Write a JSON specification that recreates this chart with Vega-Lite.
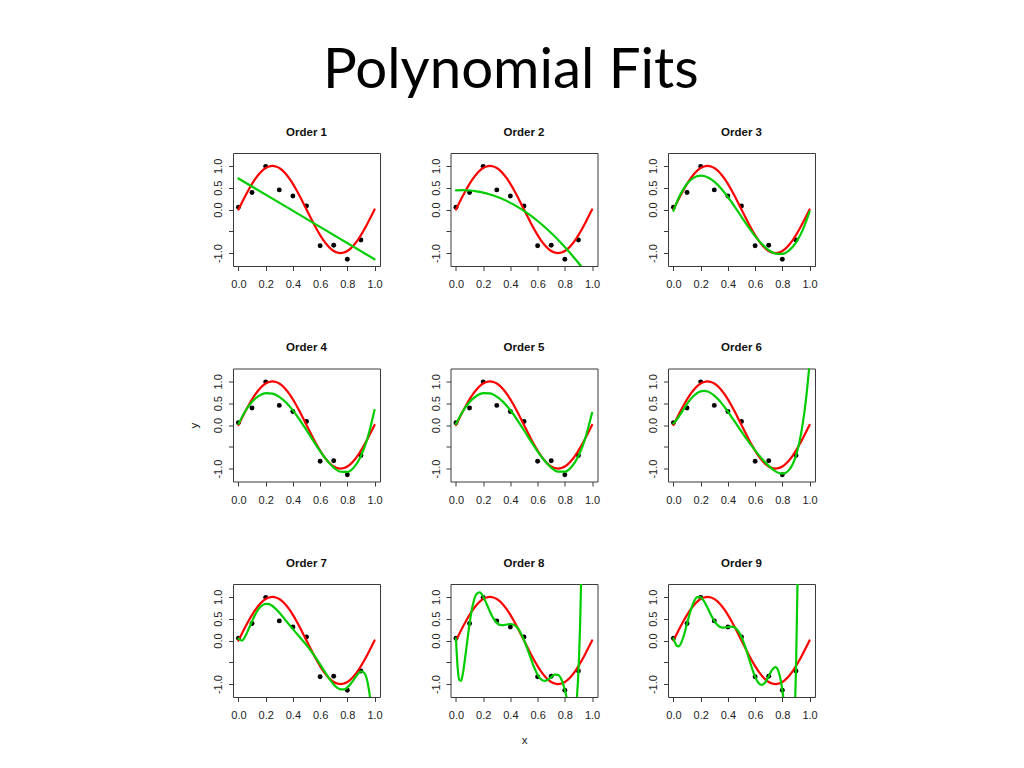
{
 "$schema": "https://vega.github.io/schema/vega-lite/v6.json",
 "background": "white",
 "padding": {"left": 188, "top": 42, "right": 5, "bottom": 5},
 "title": {"text": "Polynomial Fits", "font": "Lato", "fontSize": 56.4, "fontWeight": "normal", "color": "black", "anchor": "middle", "baseline": "alphabetic", "offset": -18, "dx": 8},
 "datasets": {
  "pts": [
   {"x": 0, "y": 0.05}, {"x": 0.1, "y": 0.39}, {"x": 0.2, "y": 0.99}, {"x": 0.3, "y": 0.45}, {"x": 0.4, "y": 0.31},
   {"x": 0.5, "y": 0.08}, {"x": 0.6, "y": -0.83}, {"x": 0.7, "y": -0.82}, {"x": 0.8, "y": -1.14}, {"x": 0.9, "y": -0.70}
  ],
  "sine": [
   {"x": 0, "y": 0}, {"x": 0.025, "y": 0.1564}, {"x": 0.05, "y": 0.309}, {"x": 0.075, "y": 0.454}, {"x": 0.1, "y": 0.5878},
   {"x": 0.125, "y": 0.7071}, {"x": 0.15, "y": 0.809}, {"x": 0.175, "y": 0.891}, {"x": 0.2, "y": 0.9511}, {"x": 0.225, "y": 0.9877},
   {"x": 0.25, "y": 1}, {"x": 0.275, "y": 0.9877}, {"x": 0.3, "y": 0.9511}, {"x": 0.325, "y": 0.891}, {"x": 0.35, "y": 0.809},
   {"x": 0.375, "y": 0.7071}, {"x": 0.4, "y": 0.5878}, {"x": 0.425, "y": 0.454}, {"x": 0.45, "y": 0.309}, {"x": 0.475, "y": 0.1564},
   {"x": 0.5, "y": 0}, {"x": 0.525, "y": -0.1564}, {"x": 0.55, "y": -0.309}, {"x": 0.575, "y": -0.454}, {"x": 0.6, "y": -0.5878},
   {"x": 0.625, "y": -0.7071}, {"x": 0.65, "y": -0.809}, {"x": 0.675, "y": -0.891}, {"x": 0.7, "y": -0.9511}, {"x": 0.725, "y": -0.9877},
   {"x": 0.75, "y": -1}, {"x": 0.775, "y": -0.9877}, {"x": 0.8, "y": -0.9511}, {"x": 0.825, "y": -0.891}, {"x": 0.85, "y": -0.809},
   {"x": 0.875, "y": -0.7071}, {"x": 0.9, "y": -0.5878}, {"x": 0.925, "y": -0.454}, {"x": 0.95, "y": -0.309}, {"x": 0.975, "y": -0.1564},
   {"x": 1, "y": 0}
  ],
  "fits": [
   {"order": 1, "x": 0, "y": 0.712}, {"order": 1, "x": 0.5, "y": -0.2145}, {"order": 1, "x": 1, "y": -1.141},

   {"order": 2, "x": 0, "y": 0.4396}, {"order": 2, "x": 0.05, "y": 0.4434}, {"order": 2, "x": 0.1, "y": 0.4359}, {"order": 2, "x": 0.15, "y": 0.4169},
   {"order": 2, "x": 0.2, "y": 0.3867}, {"order": 2, "x": 0.25, "y": 0.345}, {"order": 2, "x": 0.3, "y": 0.2921}, {"order": 2, "x": 0.35, "y": 0.2278},
   {"order": 2, "x": 0.4, "y": 0.1522}, {"order": 2, "x": 0.45, "y": 0.0652}, {"order": 2, "x": 0.5, "y": -0.0332}, {"order": 2, "x": 0.55, "y": -0.1428},
   {"order": 2, "x": 0.6, "y": -0.2639}, {"order": 2, "x": 0.65, "y": -0.3962}, {"order": 2, "x": 0.7, "y": -0.5399}, {"order": 2, "x": 0.75, "y": -0.6949},
   {"order": 2, "x": 0.8, "y": -0.8613}, {"order": 2, "x": 0.85, "y": -1.039}, {"order": 2, "x": 0.9, "y": -1.2282}, {"order": 2, "x": 0.95, "y": -1.4286},
   {"order": 2, "x": 1, "y": -1.6404},

   {"order": 3, "x": 0, "y": -0.0287}, {"order": 3, "x": 0.05, "y": 0.3431}, {"order": 3, "x": 0.1, "y": 0.5921}, {"order": 3, "x": 0.15, "y": 0.7321},
   {"order": 3, "x": 0.2, "y": 0.7771}, {"order": 3, "x": 0.25, "y": 0.7411}, {"order": 3, "x": 0.3, "y": 0.6379}, {"order": 3, "x": 0.35, "y": 0.4816},
   {"order": 3, "x": 0.4, "y": 0.286}, {"order": 3, "x": 0.45, "y": 0.0652}, {"order": 3, "x": 0.5, "y": -0.167}, {"order": 3, "x": 0.55, "y": -0.3966},
   {"order": 3, "x": 0.6, "y": -0.6097}, {"order": 3, "x": 0.65, "y": -0.7923}, {"order": 3, "x": 0.7, "y": -0.9303}, {"order": 3, "x": 0.75, "y": -1.0101},
   {"order": 3, "x": 0.8, "y": -1.0177}, {"order": 3, "x": 0.85, "y": -0.9387}, {"order": 3, "x": 0.9, "y": -0.7599}, {"order": 3, "x": 0.95, "y": -0.4667},
   {"order": 3, "x": 1, "y": -0.0455},

   {"order": 4, "x": 0, "y": 0.02}, {"order": 4, "x": 0.05, "y": 0.3159}, {"order": 4, "x": 0.1, "y": 0.532}, {"order": 4, "x": 0.15, "y": 0.6693},
   {"order": 4, "x": 0.2, "y": 0.7307}, {"order": 4, "x": 0.25, "y": 0.7209}, {"order": 4, "x": 0.3, "y": 0.646}, {"order": 4, "x": 0.35, "y": 0.5142},
   {"order": 4, "x": 0.4, "y": 0.335}, {"order": 4, "x": 0.45, "y": 0.12}, {"order": 4, "x": 0.5, "y": -0.118}, {"order": 4, "x": 0.55, "y": -0.3639},
   {"order": 4, "x": 0.6, "y": -0.6014}, {"order": 4, "x": 0.65, "y": -0.8123}, {"order": 4, "x": 0.7, "y": -0.9765}, {"order": 4, "x": 0.75, "y": -1.0727},
   {"order": 4, "x": 0.8, "y": -1.0773}, {"order": 4, "x": 0.85, "y": -0.9655}, {"order": 4, "x": 0.9, "y": -0.7105}, {"order": 4, "x": 0.95, "y": -0.2838},
   {"order": 4, "x": 1, "y": 0.3445},

   {"order": 5, "x": 0, "y": 0.0227}, {"order": 5, "x": 0.05, "y": 0.3104}, {"order": 5, "x": 0.1, "y": 0.5257}, {"order": 5, "x": 0.15, "y": 0.6659},
   {"order": 5, "x": 0.2, "y": 0.7312}, {"order": 5, "x": 0.25, "y": 0.7244}, {"order": 5, "x": 0.3, "y": 0.6509}, {"order": 5, "x": 0.35, "y": 0.5188},
   {"order": 5, "x": 0.4, "y": 0.3377}, {"order": 5, "x": 0.45, "y": 0.12}, {"order": 5, "x": 0.5, "y": -0.1207}, {"order": 5, "x": 0.55, "y": -0.3685},
   {"order": 5, "x": 0.6, "y": -0.6063}, {"order": 5, "x": 0.65, "y": -0.8158}, {"order": 5, "x": 0.7, "y": -0.977}, {"order": 5, "x": 0.75, "y": -1.0693},
   {"order": 5, "x": 0.8, "y": -1.071}, {"order": 5, "x": 0.85, "y": -0.9599}, {"order": 5, "x": 0.9, "y": -0.7132}, {"order": 5, "x": 0.95, "y": -0.3075},
   {"order": 5, "x": 1, "y": 0.2803},

   {"order": 6, "x": 0, "y": 0.0345}, {"order": 6, "x": 0.025, "y": 0.1261}, {"order": 6, "x": 0.05, "y": 0.2413}, {"order": 6, "x": 0.075, "y": 0.3641},
   {"order": 6, "x": 0.1, "y": 0.4823}, {"order": 6, "x": 0.125, "y": 0.5871}, {"order": 6, "x": 0.15, "y": 0.6723}, {"order": 6, "x": 0.175, "y": 0.7341},
   {"order": 6, "x": 0.2, "y": 0.7705}, {"order": 6, "x": 0.225, "y": 0.7814}, {"order": 6, "x": 0.25, "y": 0.7677}, {"order": 6, "x": 0.275, "y": 0.7313},
   {"order": 6, "x": 0.3, "y": 0.6746}, {"order": 6, "x": 0.325, "y": 0.6006}, {"order": 6, "x": 0.35, "y": 0.5125}, {"order": 6, "x": 0.375, "y": 0.4134},
   {"order": 6, "x": 0.4, "y": 0.3062}, {"order": 6, "x": 0.425, "y": 0.1939}, {"order": 6, "x": 0.45, "y": 0.0787}, {"order": 6, "x": 0.475, "y": -0.0372},
   {"order": 6, "x": 0.5, "y": -0.1522}, {"order": 6, "x": 0.525, "y": -0.265}, {"order": 6, "x": 0.55, "y": -0.3747}, {"order": 6, "x": 0.575, "y": -0.4808},
   {"order": 6, "x": 0.6, "y": -0.5827}, {"order": 6, "x": 0.625, "y": -0.6801}, {"order": 6, "x": 0.65, "y": -0.7724}, {"order": 6, "x": 0.675, "y": -0.8587},
   {"order": 6, "x": 0.7, "y": -0.9376}, {"order": 6, "x": 0.725, "y": -1.0068}, {"order": 6, "x": 0.75, "y": -1.0629}, {"order": 6, "x": 0.775, "y": -1.1009},
   {"order": 6, "x": 0.8, "y": -1.1144}, {"order": 6, "x": 0.825, "y": -1.0942}, {"order": 6, "x": 0.85, "y": -1.029}, {"order": 6, "x": 0.875, "y": -0.9041},
   {"order": 6, "x": 0.9, "y": -0.7013}, {"order": 6, "x": 0.925, "y": -0.3984}, {"order": 6, "x": 0.95, "y": 0.0316}, {"order": 6, "x": 0.975, "y": 0.6207},
   {"order": 6, "x": 1, "y": 1.407},

   {"order": 7, "x": 0, "y": 0.0418}, {"order": 7, "x": 0.025, "y": -0.0017}, {"order": 7, "x": 0.05, "y": 0.0976}, {"order": 7, "x": 0.075, "y": 0.2635},
   {"order": 7, "x": 0.1, "y": 0.4439}, {"order": 7, "x": 0.125, "y": 0.6054}, {"order": 7, "x": 0.15, "y": 0.7294}, {"order": 7, "x": 0.175, "y": 0.808},
   {"order": 7, "x": 0.2, "y": 0.8409}, {"order": 7, "x": 0.225, "y": 0.8327}, {"order": 7, "x": 0.25, "y": 0.7908}, {"order": 7, "x": 0.275, "y": 0.7239},
   {"order": 7, "x": 0.3, "y": 0.6402}, {"order": 7, "x": 0.325, "y": 0.5473}, {"order": 7, "x": 0.35, "y": 0.4507}, {"order": 7, "x": 0.375, "y": 0.3544},
   {"order": 7, "x": 0.4, "y": 0.2604}, {"order": 7, "x": 0.425, "y": 0.1689}, {"order": 7, "x": 0.45, "y": 0.0787}, {"order": 7, "x": 0.475, "y": -0.0122},
   {"order": 7, "x": 0.5, "y": -0.1064}, {"order": 7, "x": 0.525, "y": -0.2061}, {"order": 7, "x": 0.55, "y": -0.3129}, {"order": 7, "x": 0.575, "y": -0.4274},
   {"order": 7, "x": 0.6, "y": -0.5483}, {"order": 7, "x": 0.625, "y": -0.6727}, {"order": 7, "x": 0.65, "y": -0.7955}, {"order": 7, "x": 0.675, "y": -0.9099},
   {"order": 7, "x": 0.7, "y": -1.0079}, {"order": 7, "x": 0.725, "y": -1.0807}, {"order": 7, "x": 0.75, "y": -1.12}, {"order": 7, "x": 0.775, "y": -1.1192},
   {"order": 7, "x": 0.8, "y": -1.0759}, {"order": 7, "x": 0.825, "y": -0.9937}, {"order": 7, "x": 0.85, "y": -0.8853}, {"order": 7, "x": 0.875, "y": -0.7763},
   {"order": 7, "x": 0.9, "y": -0.7087}, {"order": 7, "x": 0.925, "y": -0.7463}, {"order": 7, "x": 0.95, "y": -0.9798}, {"order": 7, "x": 0.975, "y": -1.5329},
   {"order": 7, "x": 1, "y": -2.5696},

   {"order": 8, "x": 0, "y": 0.0503}, {"order": 8, "x": 0.0125, "y": -0.6216}, {"order": 8, "x": 0.025, "y": -0.9073}, {"order": 8, "x": 0.0375, "y": -0.9254},
   {"order": 8, "x": 0.05, "y": -0.7697}, {"order": 8, "x": 0.075, "y": -0.2104}, {"order": 8, "x": 0.1, "y": 0.3849}, {"order": 8, "x": 0.125, "y": 0.8289},
   {"order": 8, "x": 0.15, "y": 1.0631}, {"order": 8, "x": 0.175, "y": 1.105}, {"order": 8, "x": 0.2, "y": 1.0094}, {"order": 8, "x": 0.225, "y": 0.8416},
   {"order": 8, "x": 0.25, "y": 0.6599}, {"order": 8, "x": 0.275, "y": 0.5066}, {"order": 8, "x": 0.3, "y": 0.4043}, {"order": 8, "x": 0.325, "y": 0.3564},
   {"order": 8, "x": 0.35, "y": 0.3512}, {"order": 8, "x": 0.375, "y": 0.3671}, {"order": 8, "x": 0.4, "y": 0.3784}, {"order": 8, "x": 0.425, "y": 0.361},
   {"order": 8, "x": 0.45, "y": 0.2975}, {"order": 8, "x": 0.475, "y": 0.1799}, {"order": 8, "x": 0.5, "y": 0.0116}, {"order": 8, "x": 0.525, "y": -0.1934},
   {"order": 8, "x": 0.55, "y": -0.4124}, {"order": 8, "x": 0.575, "y": -0.6183}, {"order": 8, "x": 0.6, "y": -0.7843}, {"order": 8, "x": 0.625, "y": -0.8899},
   {"order": 8, "x": 0.65, "y": -0.9264}, {"order": 8, "x": 0.675, "y": -0.901}, {"order": 8, "x": 0.7, "y": -0.8394}, {"order": 8, "x": 0.725, "y": -0.7837},
   {"order": 8, "x": 0.75, "y": -0.7863}, {"order": 8, "x": 0.775, "y": -0.8957}, {"order": 8, "x": 0.8, "y": -1.1349}, {"order": 8, "x": 0.825, "y": -1.4676},
   {"order": 8, "x": 0.85, "y": -1.7526}, {"order": 8, "x": 0.8625, "y": -1.7895}, {"order": 8, "x": 0.875, "y": -1.6818}, {"order": 8, "x": 0.8875, "y": -1.3518},
   {"order": 8, "x": 0.9, "y": -0.7003}, {"order": 8, "x": 0.9125, "y": 0.3972}, {"order": 8, "x": 0.925, "y": 2.0941},

   {"order": 9, "x": 0, "y": 0.05}, {"order": 9, "x": 0.0125, "y": -0.0575}, {"order": 9, "x": 0.025, "y": -0.1211}, {"order": 9, "x": 0.0375, "y": -0.133},
   {"order": 9, "x": 0.05, "y": -0.0945}, {"order": 9, "x": 0.075, "y": 0.1038}, {"order": 9, "x": 0.1, "y": 0.39}, {"order": 9, "x": 0.125, "y": 0.6738},
   {"order": 9, "x": 0.15, "y": 0.887}, {"order": 9, "x": 0.175, "y": 0.9936}, {"order": 9, "x": 0.2, "y": 0.99}, {"order": 9, "x": 0.225, "y": 0.8973},
   {"order": 9, "x": 0.25, "y": 0.751}, {"order": 9, "x": 0.275, "y": 0.5906}, {"order": 9, "x": 0.3, "y": 0.45}, {"order": 9, "x": 0.325, "y": 0.3516},
   {"order": 9, "x": 0.35, "y": 0.3026}, {"order": 9, "x": 0.375, "y": 0.2953}, {"order": 9, "x": 0.4, "y": 0.31}, {"order": 9, "x": 0.425, "y": 0.3199},
   {"order": 9, "x": 0.45, "y": 0.2975}, {"order": 9, "x": 0.475, "y": 0.2211}, {"order": 9, "x": 0.5, "y": 0.08}, {"order": 9, "x": 0.525, "y": -0.1216},
   {"order": 9, "x": 0.55, "y": -0.3638}, {"order": 9, "x": 0.575, "y": -0.6135}, {"order": 9, "x": 0.6, "y": -0.83}, {"order": 9, "x": 0.625, "y": -0.9739},
   {"order": 9, "x": 0.65, "y": -1.0175}, {"order": 9, "x": 0.675, "y": -0.9568}, {"order": 9, "x": 0.7, "y": -0.82}, {"order": 9, "x": 0.725, "y": -0.6724},
   {"order": 9, "x": 0.75, "y": -0.6102}, {"order": 9, "x": 0.775, "y": -0.7407}, {"order": 9, "x": 0.8, "y": -1.14}, {"order": 9, "x": 0.825, "y": -1.7819},
   {"order": 9, "x": 0.85, "y": -2.4279}, {"order": 9, "x": 0.8625, "y": -2.5819}, {"order": 9, "x": 0.875, "y": -2.4681}, {"order": 9, "x": 0.8875, "y": -1.9159},
   {"order": 9, "x": 0.9, "y": -0.7}, {"order": 9, "x": 0.9125, "y": 1.4712}, {"order": 9, "x": 0.925, "y": 4.9676}
  ]
 },
 "columns": 3,
 "spacing": {"row": 25.5, "column": 22.5},
 "concat": [
  {"title": "Order 1", "width": 147, "height": 113,
   "encoding": {
    "x": {"field": "x", "type": "quantitative", "scale": {"domain": [-0.04, 1.04], "nice": false, "zero": false}, "axis": {"values": [0, 0.2, 0.4, 0.6, 0.8, 1], "format": ".1f", "title": "x", "titleOpacity": 0}},
    "y": {"field": "y", "type": "quantitative", "scale": {"domain": [-1.296, 1.296], "nice": false, "zero": false}, "axis": {"values": [-1, -0.5, 0, 0.5, 1], "labelExpr": "datum.value == -0.5 ? '' : (datum.value < 0 ? '-1.0' : format(datum.value, '.1f'))", "title": "y", "titleOpacity": 0}}},
   "layer": [
    {"data": {"name": "pts"}, "mark": {"type": "circle", "size": 24, "color": "black", "opacity": 1}, "encoding": {}},
    {"data": {"name": "sine"}, "mark": {"type": "line", "color": "#FF0000", "strokeWidth": 2.2, "interpolate": "monotone", "clip": true, "strokeCap": "round"}, "encoding": {}},
    {"data": {"name": "fits"}, "transform": [{"filter": "datum.order == 1"}], "mark": {"type": "line", "color": "#00CD00", "strokeWidth": 2.2, "interpolate": "monotone", "clip": true, "strokeCap": "round"}, "encoding": {}}
   ]},
  {"title": "Order 2", "width": 147, "height": 113,
   "encoding": {
    "x": {"field": "x", "type": "quantitative", "scale": {"domain": [-0.04, 1.04], "nice": false, "zero": false}, "axis": {"values": [0, 0.2, 0.4, 0.6, 0.8, 1], "format": ".1f", "title": "x", "titleOpacity": 0}},
    "y": {"field": "y", "type": "quantitative", "scale": {"domain": [-1.296, 1.296], "nice": false, "zero": false}, "axis": {"values": [-1, -0.5, 0, 0.5, 1], "labelExpr": "datum.value == -0.5 ? '' : (datum.value < 0 ? '-1.0' : format(datum.value, '.1f'))", "title": "y", "titleOpacity": 0}}},
   "layer": [
    {"data": {"name": "pts"}, "mark": {"type": "circle", "size": 24, "color": "black", "opacity": 1}, "encoding": {}},
    {"data": {"name": "sine"}, "mark": {"type": "line", "color": "#FF0000", "strokeWidth": 2.2, "interpolate": "monotone", "clip": true, "strokeCap": "round"}, "encoding": {}},
    {"data": {"name": "fits"}, "transform": [{"filter": "datum.order == 2"}], "mark": {"type": "line", "color": "#00CD00", "strokeWidth": 2.2, "interpolate": "monotone", "clip": true, "strokeCap": "round"}, "encoding": {}}
   ]},
  {"title": "Order 3", "width": 147, "height": 113,
   "encoding": {
    "x": {"field": "x", "type": "quantitative", "scale": {"domain": [-0.04, 1.04], "nice": false, "zero": false}, "axis": {"values": [0, 0.2, 0.4, 0.6, 0.8, 1], "format": ".1f", "title": "x", "titleOpacity": 0}},
    "y": {"field": "y", "type": "quantitative", "scale": {"domain": [-1.296, 1.296], "nice": false, "zero": false}, "axis": {"values": [-1, -0.5, 0, 0.5, 1], "labelExpr": "datum.value == -0.5 ? '' : (datum.value < 0 ? '-1.0' : format(datum.value, '.1f'))", "title": "y", "titleOpacity": 0}}},
   "layer": [
    {"data": {"name": "pts"}, "mark": {"type": "circle", "size": 24, "color": "black", "opacity": 1}, "encoding": {}},
    {"data": {"name": "sine"}, "mark": {"type": "line", "color": "#FF0000", "strokeWidth": 2.2, "interpolate": "monotone", "clip": true, "strokeCap": "round"}, "encoding": {}},
    {"data": {"name": "fits"}, "transform": [{"filter": "datum.order == 3"}], "mark": {"type": "line", "color": "#00CD00", "strokeWidth": 2.2, "interpolate": "monotone", "clip": true, "strokeCap": "round"}, "encoding": {}}
   ]},
  {"title": "Order 4", "width": 147, "height": 113,
   "encoding": {
    "x": {"field": "x", "type": "quantitative", "scale": {"domain": [-0.04, 1.04], "nice": false, "zero": false}, "axis": {"values": [0, 0.2, 0.4, 0.6, 0.8, 1], "format": ".1f", "title": "x", "titleOpacity": 0}},
    "y": {"field": "y", "type": "quantitative", "scale": {"domain": [-1.296, 1.296], "nice": false, "zero": false}, "axis": {"values": [-1, -0.5, 0, 0.5, 1], "labelExpr": "datum.value == -0.5 ? '' : (datum.value < 0 ? '-1.0' : format(datum.value, '.1f'))", "title": "y", "titleOpacity": 1}}},
   "layer": [
    {"data": {"name": "pts"}, "mark": {"type": "circle", "size": 24, "color": "black", "opacity": 1}, "encoding": {}},
    {"data": {"name": "sine"}, "mark": {"type": "line", "color": "#FF0000", "strokeWidth": 2.2, "interpolate": "monotone", "clip": true, "strokeCap": "round"}, "encoding": {}},
    {"data": {"name": "fits"}, "transform": [{"filter": "datum.order == 4"}], "mark": {"type": "line", "color": "#00CD00", "strokeWidth": 2.2, "interpolate": "monotone", "clip": true, "strokeCap": "round"}, "encoding": {}}
   ]},
  {"title": "Order 5", "width": 147, "height": 113,
   "encoding": {
    "x": {"field": "x", "type": "quantitative", "scale": {"domain": [-0.04, 1.04], "nice": false, "zero": false}, "axis": {"values": [0, 0.2, 0.4, 0.6, 0.8, 1], "format": ".1f", "title": "x", "titleOpacity": 0}},
    "y": {"field": "y", "type": "quantitative", "scale": {"domain": [-1.296, 1.296], "nice": false, "zero": false}, "axis": {"values": [-1, -0.5, 0, 0.5, 1], "labelExpr": "datum.value == -0.5 ? '' : (datum.value < 0 ? '-1.0' : format(datum.value, '.1f'))", "title": "y", "titleOpacity": 0}}},
   "layer": [
    {"data": {"name": "pts"}, "mark": {"type": "circle", "size": 24, "color": "black", "opacity": 1}, "encoding": {}},
    {"data": {"name": "sine"}, "mark": {"type": "line", "color": "#FF0000", "strokeWidth": 2.2, "interpolate": "monotone", "clip": true, "strokeCap": "round"}, "encoding": {}},
    {"data": {"name": "fits"}, "transform": [{"filter": "datum.order == 5"}], "mark": {"type": "line", "color": "#00CD00", "strokeWidth": 2.2, "interpolate": "monotone", "clip": true, "strokeCap": "round"}, "encoding": {}}
   ]},
  {"title": "Order 6", "width": 147, "height": 113,
   "encoding": {
    "x": {"field": "x", "type": "quantitative", "scale": {"domain": [-0.04, 1.04], "nice": false, "zero": false}, "axis": {"values": [0, 0.2, 0.4, 0.6, 0.8, 1], "format": ".1f", "title": "x", "titleOpacity": 0}},
    "y": {"field": "y", "type": "quantitative", "scale": {"domain": [-1.296, 1.296], "nice": false, "zero": false}, "axis": {"values": [-1, -0.5, 0, 0.5, 1], "labelExpr": "datum.value == -0.5 ? '' : (datum.value < 0 ? '-1.0' : format(datum.value, '.1f'))", "title": "y", "titleOpacity": 0}}},
   "layer": [
    {"data": {"name": "pts"}, "mark": {"type": "circle", "size": 24, "color": "black", "opacity": 1}, "encoding": {}},
    {"data": {"name": "sine"}, "mark": {"type": "line", "color": "#FF0000", "strokeWidth": 2.2, "interpolate": "monotone", "clip": true, "strokeCap": "round"}, "encoding": {}},
    {"data": {"name": "fits"}, "transform": [{"filter": "datum.order == 6"}], "mark": {"type": "line", "color": "#00CD00", "strokeWidth": 2.2, "interpolate": "monotone", "clip": true, "strokeCap": "round"}, "encoding": {}}
   ]},
  {"title": "Order 7", "width": 147, "height": 113,
   "encoding": {
    "x": {"field": "x", "type": "quantitative", "scale": {"domain": [-0.04, 1.04], "nice": false, "zero": false}, "axis": {"values": [0, 0.2, 0.4, 0.6, 0.8, 1], "format": ".1f", "title": "x", "titleOpacity": 0}},
    "y": {"field": "y", "type": "quantitative", "scale": {"domain": [-1.296, 1.296], "nice": false, "zero": false}, "axis": {"values": [-1, -0.5, 0, 0.5, 1], "labelExpr": "datum.value == -0.5 ? '' : (datum.value < 0 ? '-1.0' : format(datum.value, '.1f'))", "title": "y", "titleOpacity": 0}}},
   "layer": [
    {"data": {"name": "pts"}, "mark": {"type": "circle", "size": 24, "color": "black", "opacity": 1}, "encoding": {}},
    {"data": {"name": "sine"}, "mark": {"type": "line", "color": "#FF0000", "strokeWidth": 2.2, "interpolate": "monotone", "clip": true, "strokeCap": "round"}, "encoding": {}},
    {"data": {"name": "fits"}, "transform": [{"filter": "datum.order == 7"}], "mark": {"type": "line", "color": "#00CD00", "strokeWidth": 2.2, "interpolate": "monotone", "clip": true, "strokeCap": "round"}, "encoding": {}}
   ]},
  {"title": "Order 8", "width": 147, "height": 113,
   "encoding": {
    "x": {"field": "x", "type": "quantitative", "scale": {"domain": [-0.04, 1.04], "nice": false, "zero": false}, "axis": {"values": [0, 0.2, 0.4, 0.6, 0.8, 1], "format": ".1f", "title": "x", "titleOpacity": 1}},
    "y": {"field": "y", "type": "quantitative", "scale": {"domain": [-1.296, 1.296], "nice": false, "zero": false}, "axis": {"values": [-1, -0.5, 0, 0.5, 1], "labelExpr": "datum.value == -0.5 ? '' : (datum.value < 0 ? '-1.0' : format(datum.value, '.1f'))", "title": "y", "titleOpacity": 0}}},
   "layer": [
    {"data": {"name": "pts"}, "mark": {"type": "circle", "size": 24, "color": "black", "opacity": 1}, "encoding": {}},
    {"data": {"name": "sine"}, "mark": {"type": "line", "color": "#FF0000", "strokeWidth": 2.2, "interpolate": "monotone", "clip": true, "strokeCap": "round"}, "encoding": {}},
    {"data": {"name": "fits"}, "transform": [{"filter": "datum.order == 8"}], "mark": {"type": "line", "color": "#00CD00", "strokeWidth": 2.2, "interpolate": "monotone", "clip": true, "strokeCap": "round"}, "encoding": {}}
   ]},
  {"title": "Order 9", "width": 147, "height": 113,
   "encoding": {
    "x": {"field": "x", "type": "quantitative", "scale": {"domain": [-0.04, 1.04], "nice": false, "zero": false}, "axis": {"values": [0, 0.2, 0.4, 0.6, 0.8, 1], "format": ".1f", "title": "x", "titleOpacity": 0}},
    "y": {"field": "y", "type": "quantitative", "scale": {"domain": [-1.296, 1.296], "nice": false, "zero": false}, "axis": {"values": [-1, -0.5, 0, 0.5, 1], "labelExpr": "datum.value == -0.5 ? '' : (datum.value < 0 ? '-1.0' : format(datum.value, '.1f'))", "title": "y", "titleOpacity": 0}}},
   "layer": [
    {"data": {"name": "pts"}, "mark": {"type": "circle", "size": 24, "color": "black", "opacity": 1}, "encoding": {}},
    {"data": {"name": "sine"}, "mark": {"type": "line", "color": "#FF0000", "strokeWidth": 2.2, "interpolate": "monotone", "clip": true, "strokeCap": "round"}, "encoding": {}},
    {"data": {"name": "fits"}, "transform": [{"filter": "datum.order == 9"}], "mark": {"type": "line", "color": "#00CD00", "strokeWidth": 2.2, "interpolate": "monotone", "clip": true, "strokeCap": "round"}, "encoding": {}}
   ]}
 ],
 "config": {
  "view": {"stroke": "#3a3a3a", "strokeWidth": 1},
  "axis": {"domain": false, "grid": false, "ticks": true, "tickSize": 4.5, "tickColor": "#3a3a3a", "tickWidth": 1,
           "labelFont": "Liberation Sans", "labelFontSize": 11, "labelColor": "#222222",
           "titleFont": "Liberation Sans", "titleFontSize": 11.5, "titleFontWeight": "normal", "titleColor": "#222222"},
  "axisX": {"labelPadding": 8, "titlePadding": 14, "labelFlush": false, "labelOverlap": false},
  "axisY": {"labelAngle": 270, "labelAlign": "center", "labelBaseline": "bottom", "labelPadding": 5, "titlePadding": 13, "labelFlush": false, "labelOverlap": false},
  "title": {"font": "Liberation Sans", "fontSize": 11.5, "fontWeight": "bold", "color": "#111111", "anchor": "middle", "offset": 15, "baseline": "alphabetic"}
 }
}
